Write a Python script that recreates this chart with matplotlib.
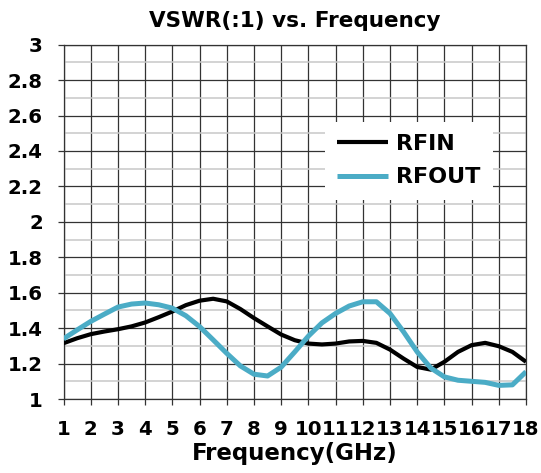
import numpy as np
from matplotlib import pyplot as plt

# values, every 0.5 GHz
freq = [1, 1.5, 2, 2.5, 3, 3.5, 4, 4.5, 5, 5.5, 6, 6.5, 7, 7.5, 8, 8.5, 9,
        9.5, 10, 10.5, 11, 11.5, 12, 12.5, 13, 13.5, 14, 14.5, 15, 15.5, 16, 16.5, 17, 17.5, 18]
rfin = [1.315, 1.343, 1.366, 1.381, 1.394, 1.41, 1.432, 1.462, 1.494, 1.53, 1.555, 1.566, 1.551,
        1.508, 1.457, 1.41, 1.364, 1.332, 1.313, 1.308, 1.313, 1.325, 1.328, 1.317, 1.279, 1.228,
        1.181, 1.166, 1.21, 1.266, 1.304, 1.317, 1.298, 1.266, 1.21]
rfout = [1.34, 1.39, 1.438, 1.479, 1.519, 1.536, 1.542, 1.532, 1.513, 1.47, 1.409, 1.334, 1.258,
         1.187, 1.14, 1.13, 1.18, 1.266, 1.355, 1.43, 1.483, 1.525, 1.549, 1.549, 1.483, 1.379,
         1.266, 1.175, 1.125, 1.106, 1.1, 1.094, 1.077, 1.08, 1.154]

series = [("RFIN", rfin, "black", 3.0), ("RFOUT", rfout, "#4BACC6", 3.6)]

plt.rcParams['font.family'] = ['DejaVu Sans']
plt.rcParams['font.weight'] = 'bold'

fig = plt.figure(figsize=(5.41, 4.73), dpi=100)
ax = fig.add_axes([0.1174, 0.1564, 0.8549, 0.7491])

for name, vals, col, lw in series:
    ax.plot(freq, vals, color=col, lw=lw, label=name, solid_capstyle='butt',
            solid_joinstyle='round', zorder=3)

ax.set_xlim(1, 18)
ax.set_ylim(1, 3)
ax.set_xticks(range(1, 19))
ax.set_yticks(np.arange(1, 3.01, 0.2))
ax.set_yticks(np.arange(1.1, 3.0, 0.2), minor=True)
ax.set_yticklabels(["1", "1.2", "1.4", "1.6", "1.8", "2", "2.2", "2.4", "2.6", "2.8", "3"])

ax.grid(True, which='major', color='#333333', lw=0.9)
ax.grid(True, which='minor', axis='y', color='#c8c8c8', lw=1.1)
ax.tick_params(which='major', length=4.3, width=0.9, color='#333333', labelsize=14.2)
ax.tick_params(which='minor', length=0)
ax.tick_params(axis='y', pad=10.5)
ax.tick_params(axis='x', pad=11)
for sp in ax.spines.values():
    sp.set_color('#333333')
    sp.set_linewidth(0.9)

ax.set_title("VSWR(:1) vs. Frequency", fontsize=15.5, fontweight='bold', pad=13)
ax.set_xlabel("Frequency(GHz)", fontsize=16.5, fontweight='bold', labelpad=2)

leg = ax.legend(loc='upper left', bbox_to_anchor=(0.565, 0.782), fontsize=16,
                frameon=True, fancybox=False, framealpha=1, facecolor='white',
                edgecolor='none', handlelength=2.3, handletextpad=0.35,
                labelspacing=0.6, borderpad=0.55, borderaxespad=0)
for t in leg.get_texts():
    t.set_fontweight('bold')

fig.savefig("out.png", dpi=100)
